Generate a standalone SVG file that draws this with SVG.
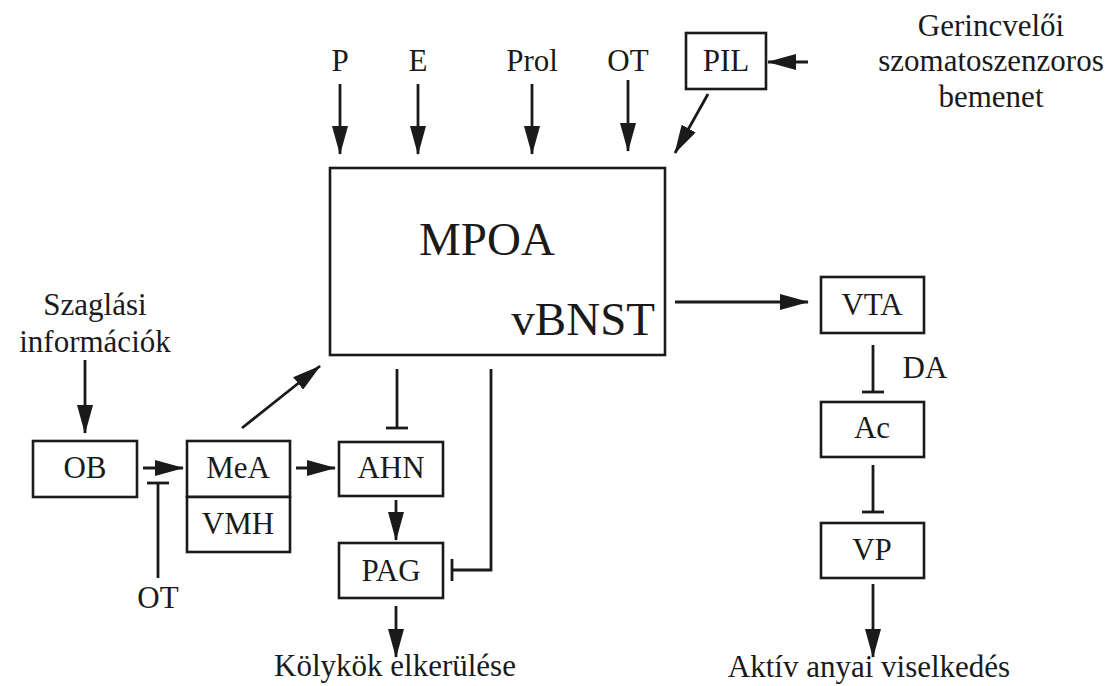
<svg xmlns="http://www.w3.org/2000/svg" width="1110" height="686" viewBox="0 0 1110 686">
<style>
.box{fill:#fff;stroke:#1a1a1a;stroke-width:2.6}
.t{font-family:"Liberation Serif","Times New Roman",serif;font-size:31px;fill:#1a1a1a;text-anchor:middle}
.big{font-family:"Liberation Serif","Times New Roman",serif;font-size:47px;fill:#1a1a1a}
.c{fill:none;stroke:#1a1a1a;stroke-width:2.8}
.a{marker-end:url(#arr)}
.i{marker-end:url(#tee)}
</style>
<defs>
<marker id="arr" markerUnits="userSpaceOnUse" markerWidth="29" markerHeight="16" viewBox="0 0 29 16" refX="28" refY="8" orient="auto">
<path d="M0,0 L29,8 L0,16 z" fill="#1a1a1a"/>
</marker>
<marker id="tee" markerUnits="userSpaceOnUse" markerWidth="4" markerHeight="22" viewBox="0 0 4 22" refX="2" refY="11" orient="auto">
<path d="M2,0 L2,22" stroke="#1a1a1a" stroke-width="2.8"/>
</marker>
</defs>
<rect width="1110" height="686" fill="#fff"/>
<g id="connectors">
<line class="c a" x1="340" y1="84" x2="340" y2="154"/>
<line class="c a" x1="418" y1="84" x2="418" y2="154"/>
<line class="c a" x1="532" y1="84" x2="532" y2="154"/>
<line class="c a" x1="628" y1="80" x2="628" y2="151"/>
<line class="c a" x1="708" y1="94" x2="675" y2="153"/>
<line class="c a" x1="808" y1="62" x2="768" y2="62"/>
<line class="c a" x1="675" y1="302" x2="808" y2="302"/>
<line class="c i" x1="873" y1="345" x2="873" y2="392"/>
<line class="c i" x1="873" y1="465" x2="873" y2="512"/>
<line class="c a" x1="873" y1="584" x2="873" y2="657"/>
<line class="c a" x1="85" y1="360" x2="85" y2="433"/>
<line class="c a" x1="143" y1="468" x2="183" y2="468"/>
<line class="c i" x1="158" y1="578" x2="158" y2="483"/>
<line class="c a" x1="242" y1="428" x2="320" y2="366"/>
<line class="c a" x1="296" y1="468" x2="335" y2="468"/>
<line class="c i" x1="397" y1="369" x2="397" y2="428"/>
<line class="c a" x1="396" y1="500" x2="396" y2="540"/>
<polyline class="c i" points="491,369 491,570 452,570"/>
<line class="c a" x1="396" y1="606" x2="396" y2="657"/>
</g>
<g id="labels">
<text class="t" x="340" y="71">P</text>
<text class="t" x="418" y="71">E</text>
<text class="t" x="532" y="71">Prol</text>
<text class="t" x="628" y="71">OT</text>
<text class="t" x="991" y="36">Gerincvelői</text>
<text class="t" x="991" y="71">szomatoszenzoros</text>
<text class="t" x="991" y="107">bemenet</text>
<text class="t" x="95" y="315">Szaglási</text>
<text class="t" x="95" y="352">információk</text>
<text class="t" x="158" y="608">OT</text>
<text class="t" x="925" y="378">DA</text>
<text class="t" x="395" y="676">Kölykök elkerülése</text>
<text class="t" x="869" y="677">Aktív anyai viselkedés</text>
</g>
<g id="MPOA">
<rect class="box" x="330" y="168" width="335" height="187"/>
<text class="big" x="487" y="255" text-anchor="middle">MPOA</text>
<text class="big" x="655" y="335" text-anchor="end">vBNST</text>
</g>
<g id="PIL"><rect class="box" x="686" y="33" width="80" height="56"/><text class="t" x="726" y="71">PIL</text></g>
<g id="VTA"><rect class="box" x="821" y="277" width="103" height="56"/><text class="t" x="872" y="315">VTA</text></g>
<g id="Ac"><rect class="box" x="821" y="402" width="103" height="55"/><text class="t" x="872" y="438">Ac</text></g>
<g id="VP"><rect class="box" x="821" y="523" width="103" height="55"/><text class="t" x="872" y="560">VP</text></g>
<g id="OB"><rect class="box" x="33" y="441" width="104" height="56"/><text class="t" x="85" y="478">OB</text></g>
<g id="MeA"><rect class="box" x="187" y="441" width="103" height="56"/><text class="t" x="238" y="478">MeA</text></g>
<g id="VMH"><rect class="box" x="187" y="497" width="103" height="55"/><text class="t" x="238" y="534">VMH</text></g>
<g id="AHN"><rect class="box" x="339" y="442" width="104" height="54"/><text class="t" x="391" y="478">AHN</text></g>
<g id="PAG"><rect class="box" x="339" y="543" width="104" height="55"/><text class="t" x="391" y="581">PAG</text></g>
</svg>
